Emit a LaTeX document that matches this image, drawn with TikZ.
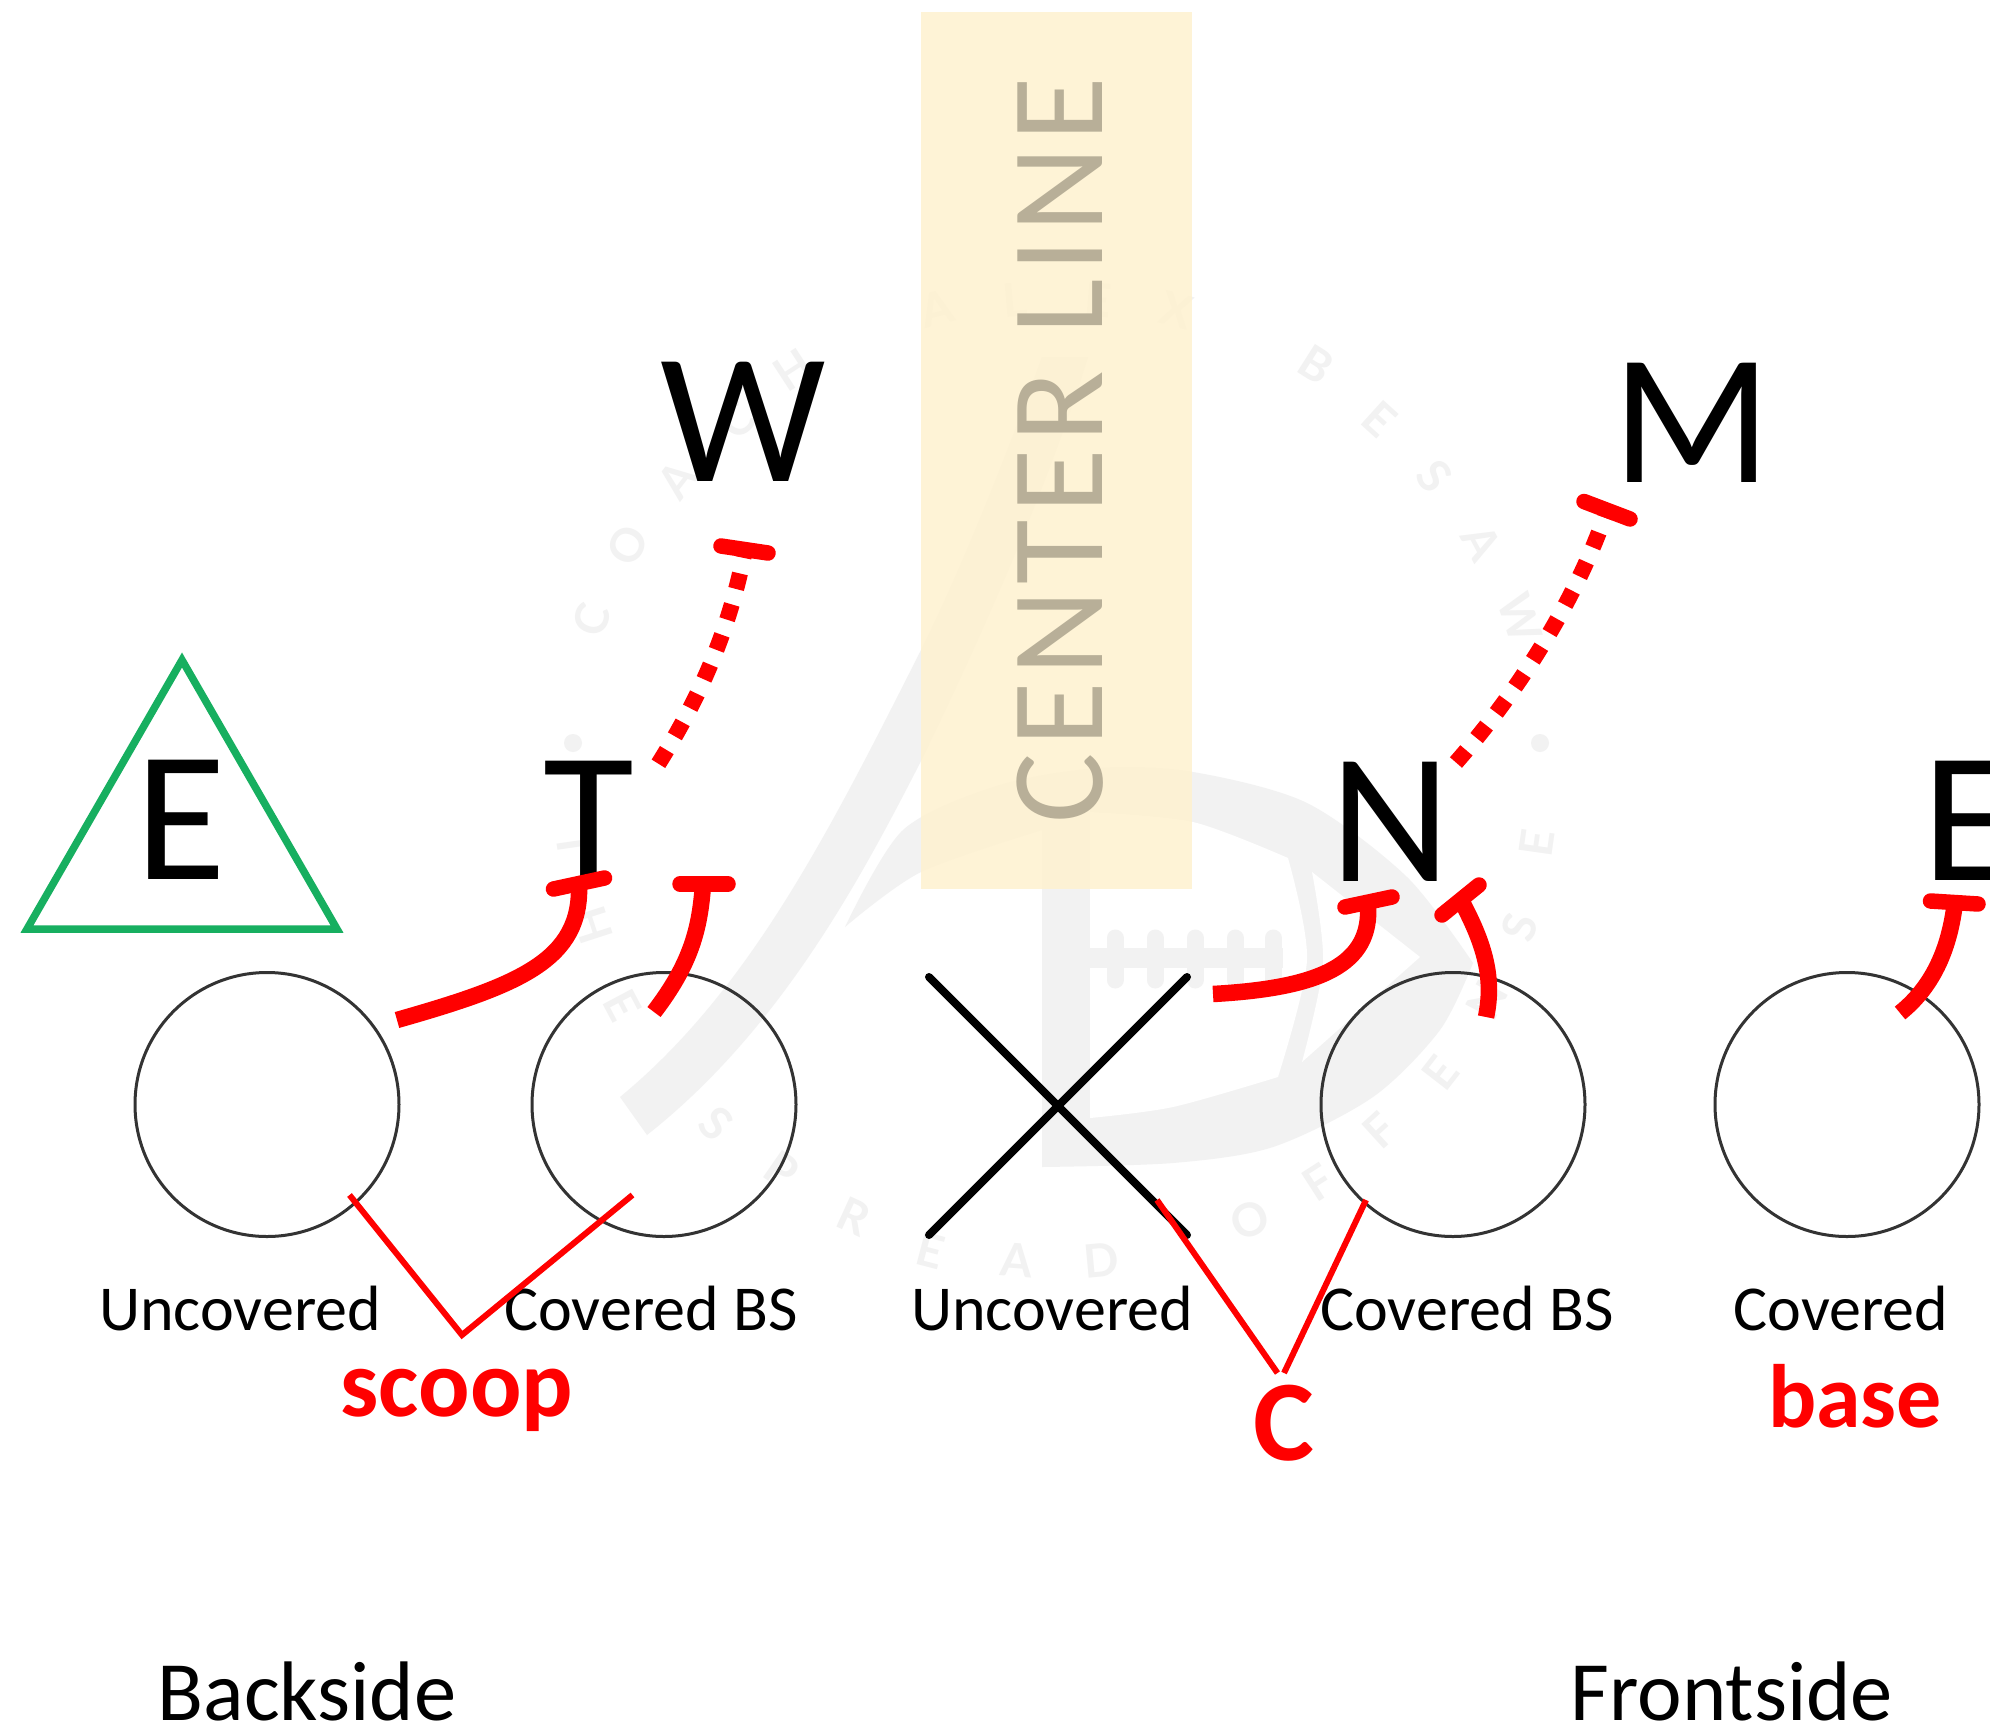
\documentclass[tikz,border=0pt]{standalone}
\usepackage{fontspec}
\setmainfont{Carlito}
\newfontfamily\linefont[LetterSpace=4.9]{Carlito}
\newfontfamily\markfont{Lato}
\definecolor{wm}{HTML}{F2F2F2}
\definecolor{wmtext}{HTML}{F2F2F2}
\definecolor{band}{HTML}{FEF1CF}
\definecolor{cltext}{HTML}{B8AF98}
\definecolor{tri}{HTML}{17AF60}
\definecolor{ring}{HTML}{333333}
\newcommand{\fs}[1]{\fontsize{#1}{#1}\selectfont}
\tikzset{
  redcurve/.style={draw=red,line width=16.5pt,line cap=butt},
  redbar/.style={draw=red,line width=15.5pt,line cap=round},
  reddots/.style={draw=red,line width=16pt,dash pattern=on 16pt off 16pt,dash phase=8pt},
  redthin/.style={draw=red,line width=6pt},
  player/.style={circle,draw=ring,line width=3pt,minimum size=264pt,inner sep=0pt},
  bigletter/.style={anchor=base,inner sep=0pt,text=black,font=\fs{186}},
  lab/.style={anchor=base,inner sep=0pt,text=black,font=\fs{64}},
  side/.style={anchor=base,inner sep=0pt,text=black,font=\fs{84.5}},
  call/.style={anchor=base,inner sep=0pt,text=red,font=\bfseries\fs{#1}},
  xline/.style={draw=black,line width=8pt,line cap=round},
  marklet/.style={text=wmtext,font=\markfont\bfseries\fs{46},inner sep=0pt},
}
\begin{document}
\begin{tikzpicture}[x=1pt,y=-1pt]
\useasboundingbox (0,0) rectangle (1990,1727);
\fill[white] (0,0) rectangle (1990,1727);
% watermark
\fill[wm] (620,1097) .. controls (750,990) and (830,830) .. (921,650) .. controls (960,572) and (1005,460) .. (1042,357)
  -- (1088,357) .. controls (1050,480) and (985,630) .. (920,763) .. controls (860,880) and (780,1030) .. (647,1135) -- cycle;
\fill[wm] plot[smooth] coordinates {(845,927) (903,830) (1000,785) (1100,768) (1193,772) (1307,803) (1407,877) (1473,963)}
  -- plot[smooth] coordinates {(1473,963) (1440,1030) (1373,1097) (1273,1147) (1173,1163) (1042,1167)}
  -- (1042,830) -- plot[smooth] coordinates {(1042,830) (921,872) (845,927)} -- cycle;
\fill[white] (1090,1118) -- plot[smooth] coordinates {(1090,1118) (1173,1107) (1278,1077)}
  -- plot[smooth] coordinates {(1278,1077) (1307,960) (1288,858)}
  -- plot[smooth] coordinates {(1288,858) (1193,822) (1090,812)} -- cycle;
\fill[white] (1312,872) -- (1420,957) -- (1302,1062) -- plot[smooth] coordinates {(1302,1062) (1323,963) (1312,872)} -- cycle;
\fill[wm] (1085,948) rectangle (1283,968);
\foreach \px in {1115,1155,1195,1235,1273}
  \draw[wm,line width=17pt,line cap=round] (\px,938) -- (\px,980);
\foreach \lt/\px/\py in {C/592/620,O/628/545,A/677/480,C/737/420,H/793/370,A/937/308,L/1015/300,E/1098/300,X/1177/310,B/1316/365,E/1379/419,S/1434/476,A/1482/543,W/1520/618}{
  \pgfmathsetmacro\rr{atan2(775-\py,\px-1056)-90}
  \node[marklet,rotate=\rr] (m\px) at (\px,\py) {\lt};
}
\foreach \lt/\px/\py in {T/574/845,H/593/925,E/622/1005,S/716/1123,P/782/1170,R/854/1217,E/931/1251,A/1017/1260,D/1101/1260,O/1250/1220,F/1318/1182,F/1380/1130,E/1440/1073,N/1487/1000,S/1520/927,E/1537/843}{
  \pgfmathsetmacro\rr{atan2(775-\py,\px-1056)+90}
  \node[marklet,rotate=\rr] (b\px) at (\px,\py) {\lt};
}
\fill[wm] (573,743) circle (9);
\fill[wm] (1540,743) circle (9);
% center line band
\fill[band,fill opacity=.85] (921,12) rectangle (1192,889);
\node[rotate=90,anchor=base,inner sep=0pt,text=cltext,font=\linefont\fs{132}] (centerline) at (1102,450) {CENTER LINE};
% triangle
\draw[tri,line width=7.5pt,line join=miter] (27,929) -- (337,929) -- (182,660) -- cycle;
% players
\node[player] (c1) at (267,1104.5) {};
\node[player] (c2) at (664,1104.5) {};
\node[player] (c3) at (1453,1104.5) {};
\node[player] (c4) at (1847,1104.5) {};
\draw[xline] (929,977) -- (1187,1235);
\draw[xline] (929,1235) -- (1187,977);
% letters
\node[bigletter] (W) at (743,481) {W};
\node[bigletter] (M) at (1692,482) {M};
\node[bigletter] (E1) at (181,879) {E};
\node[bigletter] (T) at (589,880) {T};
\node[bigletter] (N) at (1391,881) {N};
\node[bigletter] (E2) at (1968,880) {E};
% labels
\node[lab] (l1) at (240,1330) {Uncovered};
\node[lab] (l2) at (651,1330) {Covered BS};
\node[lab] (l3) at (1052,1330) {Uncovered};
\node[lab] (l4) at (1467,1330) {Covered BS};
\node[lab] (l5) at (1841,1330) {Covered};
\node[side] (bs) at (307,1720) {Backside};
\node[side] (fs) at (1732,1720) {Frontside};
\node[call=96] (scoop) at (457,1416) {scoop};
\node[call=115] (cc) at (1284,1460) {C};
\node[call=90] (base) at (1855,1427) {base};
% red blocks
\draw[redcurve] (397,1020) .. controls (520,985) and (582,960) .. (579,884);
\draw[redbar] (553.5,889) -- (604.5,878);
\draw[redcurve] (654,1012) .. controls (690,965) and (700,930) .. (703,884);
\draw[redbar] (680,884) -- (728,884);
\draw[redcurve] (1213,994) .. controls (1320,988) and (1372,965) .. (1368,905);
\draw[redbar] (1345,907) -- (1392,897);
\draw[redcurve] (1486,1017) .. controls (1495,975) and (1482,940) .. (1462,902);
\draw[redbar] (1442,915) -- (1479,885);
\draw[redcurve] (1900,1013) .. controls (1935,985) and (1950,945) .. (1955,902);
\draw[redbar] (1930.5,901) -- (1978,904);
\draw[reddots] (745,550) .. controls (731,622) and (705,690) .. (657,766);
\draw[redbar] (721,546) -- (768,553);
\draw[reddots] (1607,510) .. controls (1580,590) and (1525,685) .. (1452,767);
\draw[redbar] (1584,501.5) -- (1630,519);
% thin red lines
\coordinate (sv) at (462,1335);
\draw[redthin,line join=miter] (349.5,1195) -- (sv) -- (632.5,1195);
\draw[redthin] (1157,1200) -- (1277.5,1373);
\draw[redthin] (1366,1200) -- (1284,1373);
\end{tikzpicture}
\end{document}
